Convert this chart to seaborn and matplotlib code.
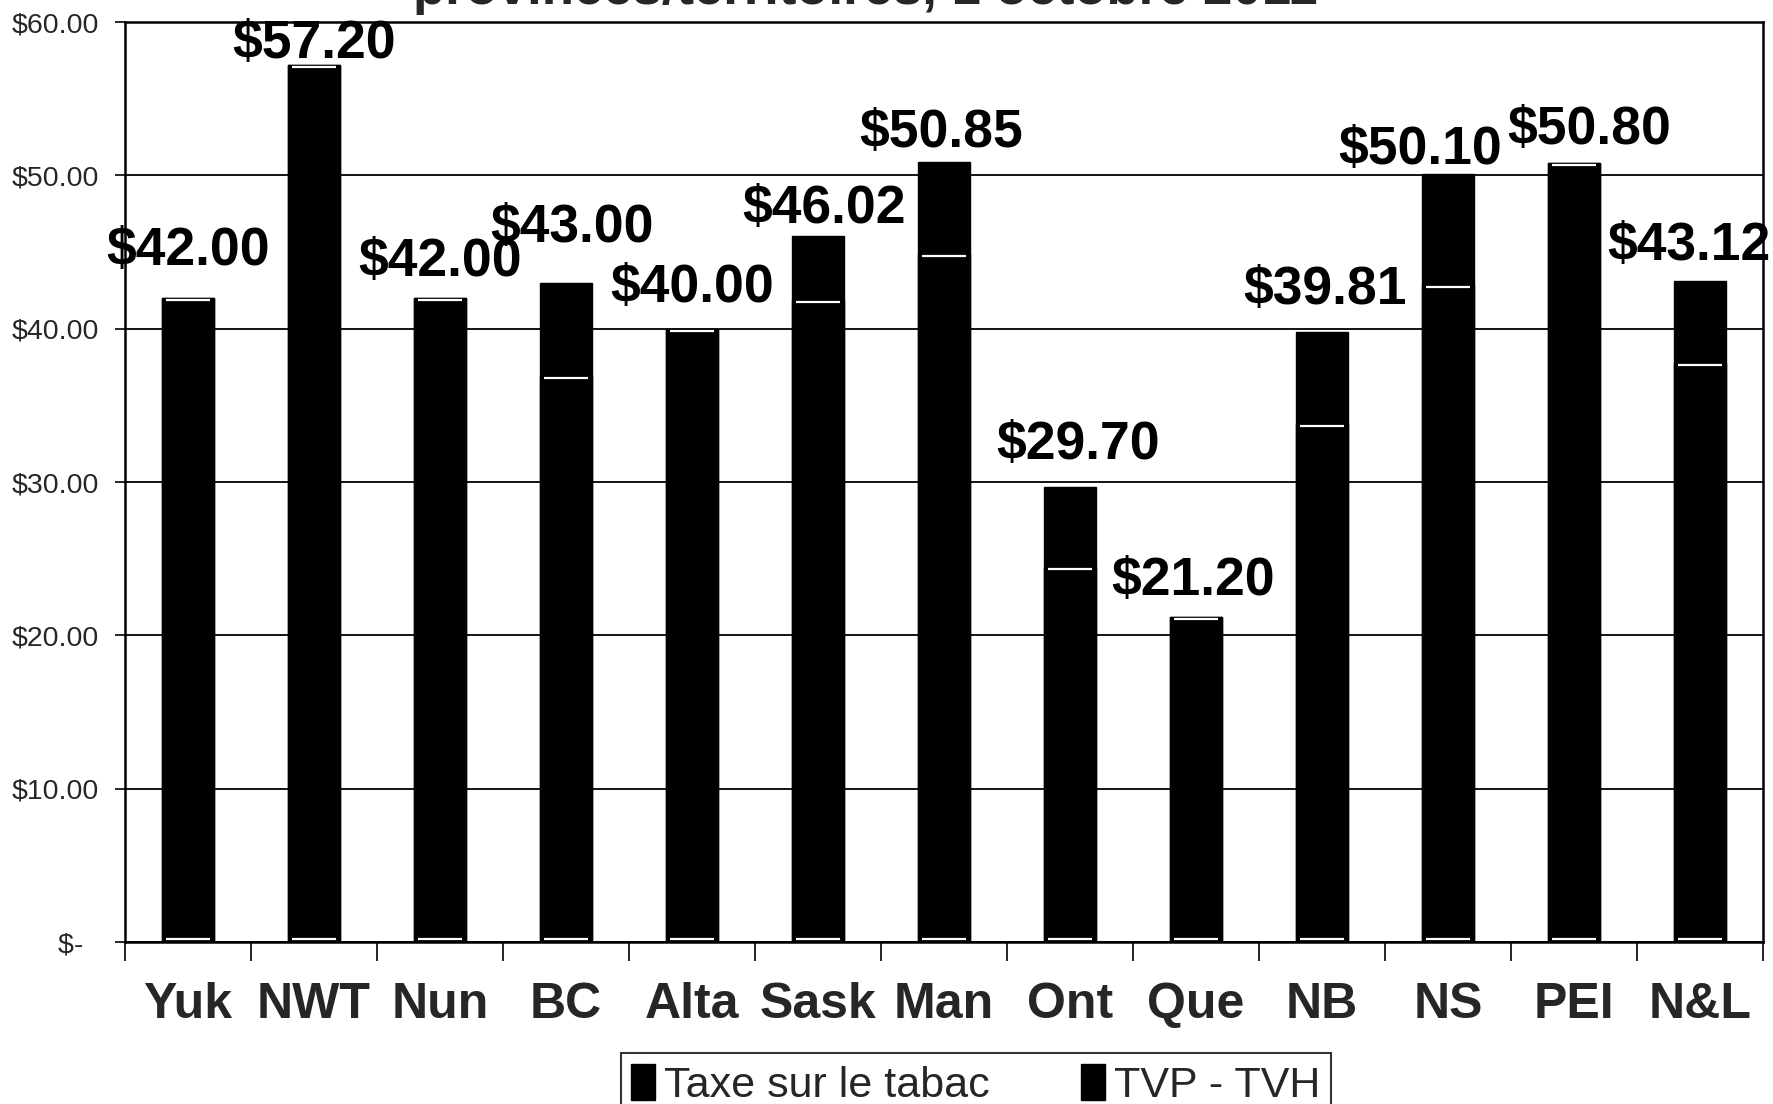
import matplotlib
matplotlib.use("Agg")
import matplotlib.pyplot as plt
import matplotlib.transforms as mtransforms
from matplotlib.patches import Rectangle
import seaborn as sns
import pandas as pd

# ---- data ----
categories = ["Yuk", "NWT", "Nun", "BC", "Alta", "Sask", "Man", "Ont", "Que", "NB", "NS", "PEI", "N&L"]
tobacco_tax = [42.00, 57.20, 42.00, 36.90, 40.00, 41.90, 44.85, 24.45, 21.20, 33.77, 42.86, 50.80, 37.77]
totals = [42.00, 57.20, 42.00, 43.00, 40.00, 46.02, 50.85, 29.70, 21.20, 39.81, 50.10, 50.80, 43.12]
total_labels = ["$42.00", "$57.20", "$42.00", "$43.00", "$40.00", "$46.02", "$50.85",
                "$29.70", "$21.20", "$39.81", "$50.10", "$50.80", "$43.12"]
series_names = ["Taxe sur le tabac", "TVP - TVH"]
y_ticks = [0, 10, 20, 30, 40, 50, 60]
y_tick_labels = ["$-  ", "$10.00", "$20.00", "$30.00", "$40.00", "$50.00", "$60.00"]
title_text = "provinces/territoires, 1 octobre 2011"

# label offsets (points) to mimic original placement
label_dx = [0, 0, 0, 4, 0, 4, -2, 6, -2, 2, -20, 11, -8]
label_dy = [24, 5, 16, 29, 19, 10, 11, 20, 16, 20, 7, 14, 15]

df = pd.DataFrame({"prov": categories, "tax": tobacco_tax, "total": totals})

sns.set_theme(style="white")
plt.rcParams["font.family"] = ["Liberation Sans", "DejaVu Sans"]

fig = plt.figure(figsize=(17.74, 11.04), dpi=100)
ax = fig.add_axes([0.0705, 0.1467, 0.9233, 0.8333])

bw = 0.41
sns.barplot(data=df, x="prov", y="total", color="black", saturation=1, width=bw,
            edgecolor="black", linewidth=1, ax=ax, zorder=3)
sns.barplot(data=df, x="prov", y="tax", color="black", saturation=1, width=bw,
            edgecolor="black", linewidth=1, ax=ax, zorder=4)

# white separator at top of tobacco-tax segment and bottom edge
down = mtransforms.offset_copy(ax.transData, fig=fig, x=0, y=-1.5, units="points")
up = mtransforms.offset_copy(ax.transData, fig=fig, x=0, y=2.0, units="points")
xs = list(range(len(categories)))
ax.hlines(tobacco_tax, [x - bw / 2 + 0.03 for x in xs], [x + bw / 2 - 0.03 for x in xs],
          colors="white", linewidth=1.6, transform=down, zorder=5)
ax.hlines([0] * len(xs), [x - bw / 2 + 0.03 for x in xs], [x + bw / 2 - 0.03 for x in xs],
          colors="white", linewidth=1.6, transform=up, zorder=5)

# value labels
for i, (t, lab) in enumerate(zip(totals, total_labels)):
    ax.annotate(lab, (i, t), xytext=(label_dx[i], label_dy[i]), textcoords="offset points",
                ha="center", va="baseline", fontsize=38.5, fontweight="bold", color="black",
                zorder=6, annotation_clip=False)

ax.set_ylim(0, 60)
ax.set_xlim(-0.5, len(categories) - 0.5)
ax.set_yticks(y_ticks)
ax.set_yticklabels(y_tick_labels, fontsize=20.5)
ax.yaxis.grid(True, color="black", linewidth=1.3)
ax.set_axisbelow(True)
ax.set_xlabel("")
ax.set_ylabel("")

ax.set_xticks(xs)
ax.set_xticklabels(categories, fontsize=36, fontweight="bold")
ax.set_xticks([x - 0.5 for x in range(len(categories) + 1)], minor=True)
ax.tick_params(axis="x", which="major", length=0, pad=29)
ax.tick_params(axis="x", which="minor", length=14, width=1.2, direction="out", color="black", bottom=True)
ax.tick_params(axis="y", which="major", length=7, width=1.2, direction="out", color="black", left=True, pad=12)

for s in ax.spines.values():
    s.set_visible(True)
    s.set_color("black")
    s.set_linewidth(1.8)

# title (mostly cut off at top, as in original)
fig.text(0.4876, 0.9962, title_text, ha="center", va="baseline", fontsize=38, fontweight="bold")

# legend
h1 = Rectangle((0, 0), 1, 1, facecolor="black", edgecolor="black")
h2 = Rectangle((0, 0), 1, 1, facecolor="black", edgecolor="black")
leg = fig.legend([h1, h2], series_names, loc="upper center", bbox_to_anchor=(0.550, 0.046),
                 ncol=2, fontsize=31, frameon=True, fancybox=False, edgecolor="black",
                 handlelength=0.55, handleheight=0.9, handletextpad=0.2, columnspacing=2.13,
                 borderpad=0.25, borderaxespad=0)
leg.get_frame().set_linewidth(1.5)

fig.savefig("out.png", dpi=100)
